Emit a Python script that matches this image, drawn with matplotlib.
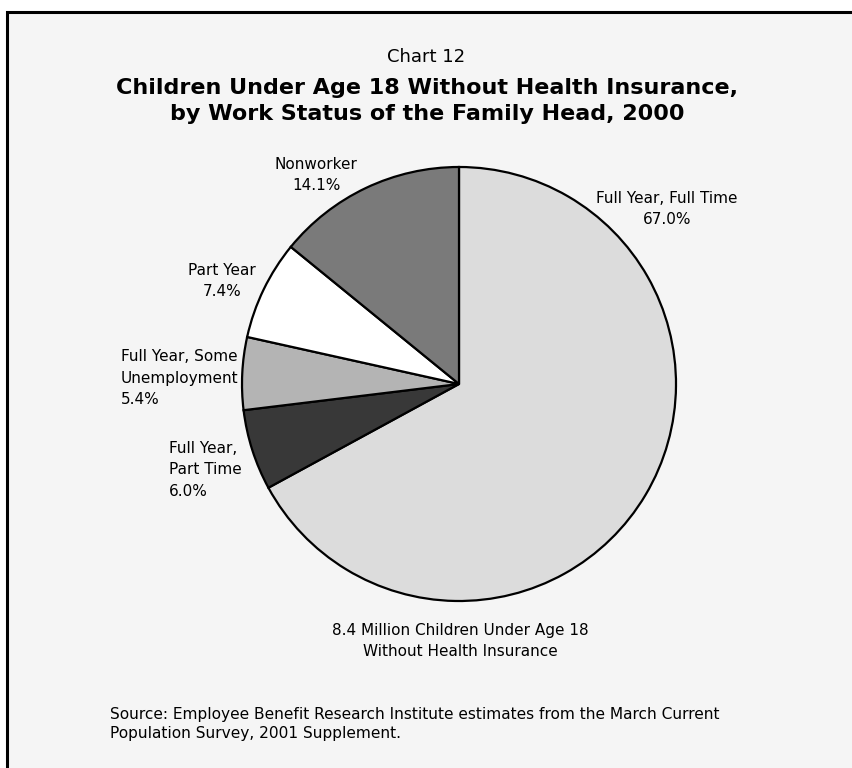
import matplotlib
matplotlib.use("Agg")
import matplotlib.pyplot as plt
from matplotlib.patches import Rectangle

categories = ["Full Year, Full Time", "Full Year,\nPart Time", "Full Year, Some\nUnemployment",
              "Part Year", "Nonworker"]
values = [67.0, 6.0, 5.4, 7.4, 14.1]
colors = ["#dcdcdc", "#383838", "#b4b4b4", "#ffffff", "#7a7a7a"]

W, H = 852, 768
fig = plt.figure(figsize=(W / 100, H / 100), dpi=100)
fig.patch.set_facecolor("white")
ax = fig.add_axes([0, 0, 1, 1])
ax.set_xlim(0, W)
ax.set_ylim(0, H)
ax.axis("off")

def Y(y):
    return H - y

fam = ["DejaVu Sans"]

# frame
ax.add_patch(Rectangle((7, Y(800)), 900, 800 - 12, facecolor="#f5f5f5",
                       edgecolor="black", linewidth=2.2, zorder=0))

ax.pie(values, startangle=90, counterclock=False, center=(459, Y(384)), radius=217,
       colors=colors, wedgeprops=dict(edgecolor="black", linewidth=1.6))
ax.set_xlim(0, W)
ax.set_ylim(0, H)
ax.set_aspect("equal")

ax.text(426, Y(57), "Chart 12", ha="center", va="center", fontsize=13, family=fam)
ax.text(427, Y(88), "Children Under Age 18 Without Health Insurance,", ha="center",
        va="center", fontsize=16, fontweight="bold", family=fam)
ax.text(427, Y(114), "by Work Status of the Family Head, 2000", ha="center",
        va="center", fontsize=16, fontweight="bold", family=fam)

lab_fs = 11
ls = 1.55
labels = [f"{c}\n{v:.1f}%" for c, v in zip(categories, values)]
ax.text(667, Y(209), labels[0], ha="center", va="center", fontsize=lab_fs,
        family=fam, linespacing=ls, multialignment="center")
ax.text(169, Y(470), labels[1], ha="left", va="center", fontsize=lab_fs,
        family=fam, linespacing=ls, multialignment="left")
ax.text(121, Y(378), labels[2], ha="left", va="center", fontsize=lab_fs,
        family=fam, linespacing=ls, multialignment="left")
ax.text(222, Y(281), labels[3], ha="center", va="center", fontsize=lab_fs,
        family=fam, linespacing=ls, multialignment="center")
ax.text(316, Y(175), labels[4], ha="center", va="center", fontsize=lab_fs,
        family=fam, linespacing=ls, multialignment="center")

ax.text(460, Y(641), "8.4 Million Children Under Age 18\nWithout Health Insurance",
        ha="center", va="center", fontsize=lab_fs, family=fam, linespacing=1.45,
        multialignment="center")

ax.text(110, Y(724), "Source: Employee Benefit Research Institute estimates from the March Current\n"
        "Population Survey, 2001 Supplement.", ha="left", va="center", fontsize=11.1,
        family=fam, linespacing=1.35)

fig.savefig("out.png", dpi=100, facecolor=fig.get_facecolor())
